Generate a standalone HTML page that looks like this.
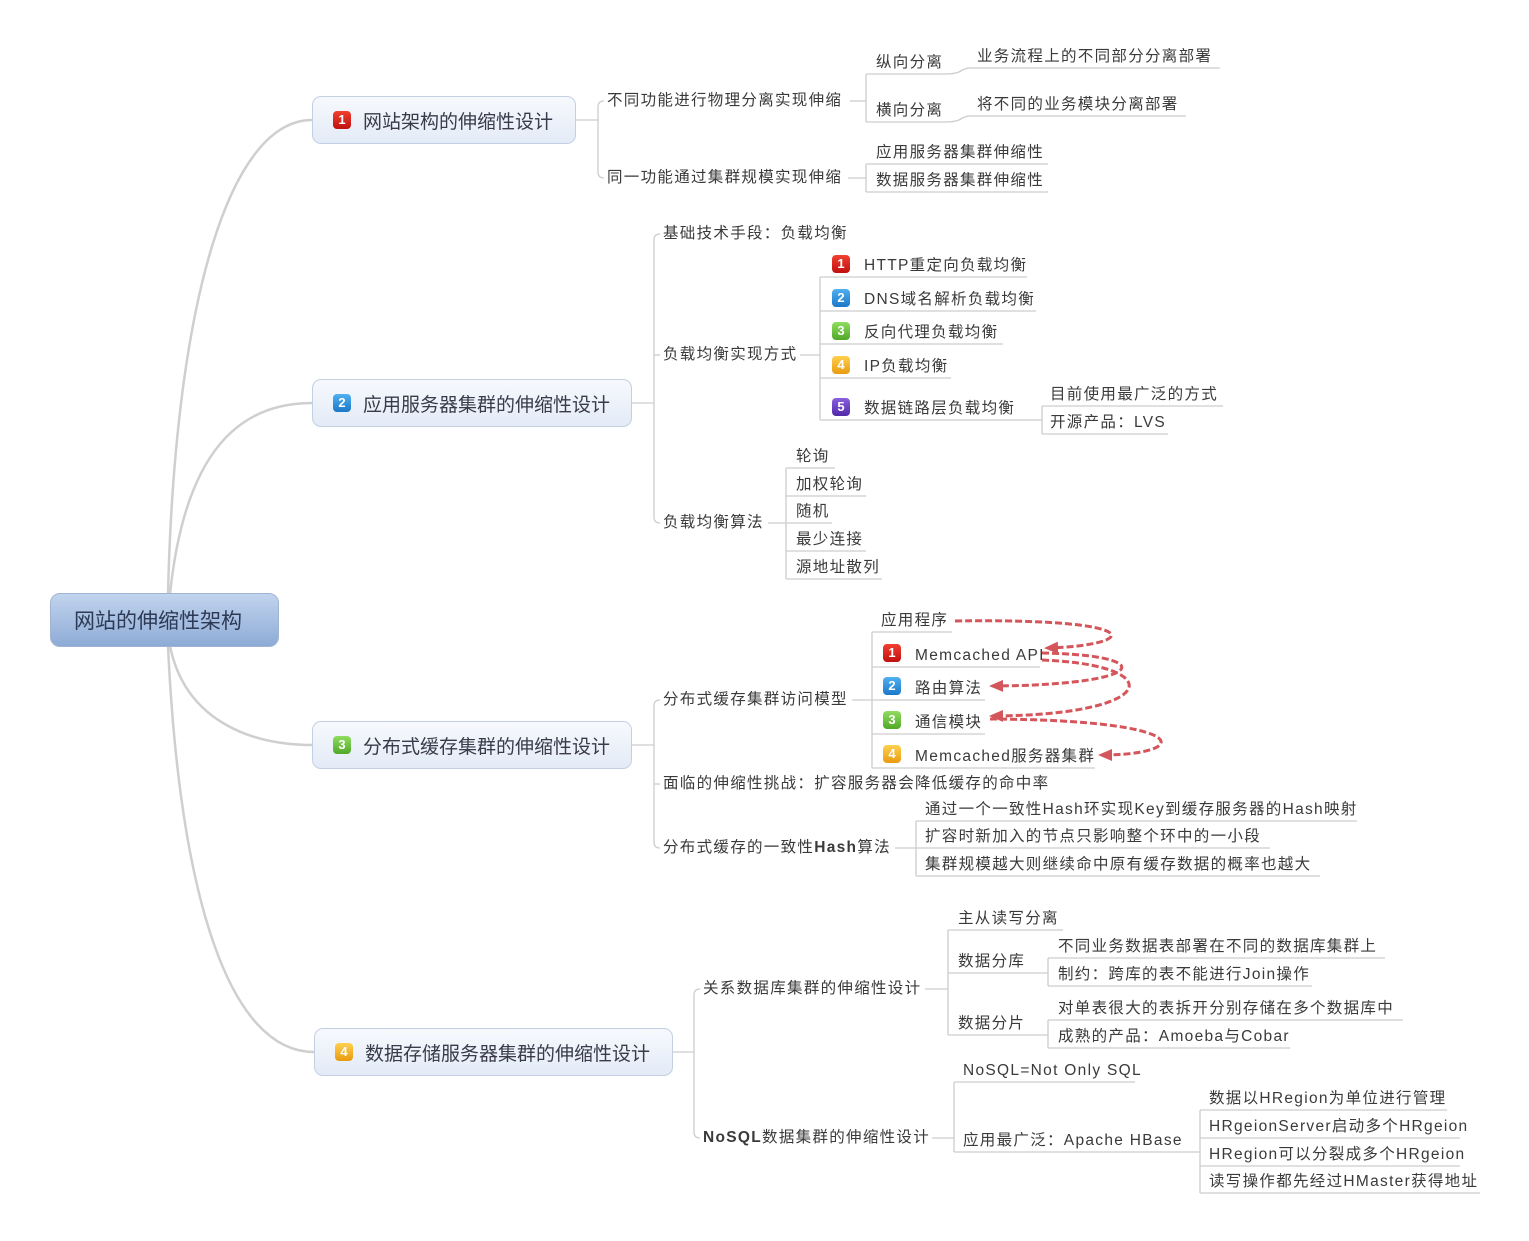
<!DOCTYPE html>
<html><head><meta charset="utf-8"><style>
body{margin:0;background:#fff;width:1529px;height:1241px;position:relative;overflow:hidden;font-family:"Liberation Sans","Noto Sans CJK SC",sans-serif;}
.t{position:absolute;font-size:15.5px;letter-spacing:1.3px;line-height:20px;color:#3a3a3a;white-space:nowrap;}
.b{position:absolute;box-sizing:border-box;border:1px solid #c3d0e2;border-radius:9px;background:linear-gradient(#f7f9fd,#e3ebf7);font-size:19px;color:#3a3a4a;display:flex;align-items:center;padding-left:20px;white-space:nowrap;}
.i{display:inline-block;width:18px;height:18px;border-radius:4px;color:#fff;font-size:13px;font-weight:bold;line-height:18px;text-align:center;font-family:"Liberation Sans",sans-serif;margin-right:12px;letter-spacing:0;}
.r{background:linear-gradient(#f04030,#c01010);}
.u{background:linear-gradient(#50b0f0,#1a78c8);}
.g{background:linear-gradient(#90dd60,#50a828);}
.o{background:linear-gradient(#ffd050,#e89a10);}
.p{background:linear-gradient(#8a60e0,#5028a8);}
.ia{position:absolute;}
</style></head><body>
<svg width="1529" height="1241" style="position:absolute;left:0;top:0">
<defs><marker id="ah" markerWidth="14" markerHeight="12" refX="10" refY="6" orient="auto" markerUnits="userSpaceOnUse"><path d="M0,0 L14,6 L0,12 Z" fill="#d4555a"/></marker></defs>
<g fill="none" stroke="#cfcfcf" stroke-width="2.5">
<path d="M168,594 C175,300 230,120 312,120"/>
<path d="M170,594 C185,450 240,403 312,403"/>
<path d="M170,646 C185,720 250,745 312,745"/>
<path d="M168,646 C180,900 230,1052 314,1052"/>
</g>
<g fill="none" stroke="#cdcdcd" stroke-width="1.3">
<path d="M576,120 L598,120"/><path d="M604,101 Q598,101 598,107 L598,172 Q598,178 604,178"/>
<path d="M850,101 L866,101"/><path d="M866,74 L866,122"/>
<path d="M866,74 L945,74 Q958,74 962,70 L968,68 L1220,68"/>
<path d="M866,122 L945,122 Q958,122 962,118 L968,116 L1186,116"/>
<path d="M848,178 L866,178"/><path d="M866,164 L866,192"/>
<path d="M866,164 L1048,164"/><path d="M866,192 L1048,192"/>
<path d="M632,403 L654,403"/><path d="M660,234 Q654,234 654,240 L654,517 Q654,523 660,523"/><path d="M654,355 L660,355"/>
<path d="M800,355 L820,355"/><path d="M820,277 L820,420"/>
<path d="M820,277 L1027,277"/><path d="M820,311 L1036,311"/><path d="M820,344 L1003,344"/><path d="M820,378 L951,378"/><path d="M820,420 L1042,420"/>
<path d="M1042,406 L1042,434"/><path d="M1042,406 L1223,406"/><path d="M1042,434 L1168,434"/>
<path d="M768,523 L786,523"/><path d="M786,468 L786,579"/>
<path d="M786,468 L835,468"/><path d="M786,496 L866,496"/><path d="M786,523 L832,523"/><path d="M786,551 L866,551"/><path d="M786,579 L882,579"/>
<path d="M632,745 L654,745"/><path d="M660,700 Q654,700 654,706 L654,842 Q654,848 660,848"/><path d="M654,784 L660,784"/>
<path d="M852,700 L872,700"/><path d="M872,632 L872,768"/>
<path d="M872,632 L952,632"/><path d="M872,667 L1040,667"/><path d="M872,700 L985,700"/><path d="M872,734 L985,734"/><path d="M872,768 L1095,768"/>
<path d="M895,848 L916,848"/><path d="M916,821 L916,876"/>
<path d="M916,821 L1357,821"/><path d="M916,848 L1270,848"/><path d="M916,876 L1320,876"/>
<path d="M673,1052 L694,1052"/><path d="M700,989 Q694,989 694,995 L694,1132 Q694,1138 700,1138"/>
<path d="M925,989 L948,989"/><path d="M948,930 L948,1035"/>
<path d="M948,930 L1063,930"/><path d="M948,973 L1048,973"/><path d="M948,1035 L1048,1035"/>
<path d="M1048,958 L1048,986"/><path d="M1048,958 L1385,958"/><path d="M1048,986 L1312,986"/>
<path d="M1048,1020 L1048,1048"/><path d="M1048,1020 L1403,1020"/><path d="M1048,1048 L1290,1048"/>
<path d="M932,1138 L954,1138"/><path d="M954,1082 L954,1152"/>
<path d="M954,1082 L1135,1082"/><path d="M954,1152 L1200,1152"/>
<path d="M1200,1110 L1200,1193"/>
<path d="M1200,1110 L1447,1110"/><path d="M1200,1138 L1460,1138"/><path d="M1200,1166 L1460,1166"/><path d="M1200,1193 L1480,1193"/>
</g>
<g fill="none" stroke="#d4555a" stroke-width="3" stroke-dasharray="7,3">
<path d="M955,621 C1150,618 1140,645 1048,648" marker-end="url(#ah)"/>
<path d="M1042,653 C1160,655 1150,685 993,686" marker-end="url(#ah)"/>
<path d="M1042,660 C1170,665 1160,715 993,716" marker-end="url(#ah)"/>
<path d="M990,719 C1200,720 1190,755 1102,755" marker-end="url(#ah)"/>
</g>
</svg>

<div class="b" style="left:50px;top:593px;width:229px;height:54px;border-radius:10px;background:linear-gradient(#c2d4ee,#8eabd6);border-color:#9fb4d4;font-size:21px;padding-left:23px;color:#2d3a55">网站的伸缩性架构</div>

<div class="b" style="left:312px;top:96px;width:264px;height:48px"><span class="i r">1</span>网站架构的伸缩性设计</div>
<div class="b" style="left:312px;top:379px;width:320px;height:48px"><span class="i u">2</span>应用服务器集群的伸缩性设计</div>
<div class="b" style="left:312px;top:721px;width:320px;height:48px"><span class="i g">3</span>分布式缓存集群的伸缩性设计</div>
<div class="b" style="left:314px;top:1028px;width:359px;height:48px"><span class="i o">4</span>数据存储服务器集群的伸缩性设计</div>

<div class="t" style="left:607px;top:91px">不同功能进行物理分离实现伸缩</div>
<div class="t" style="left:607px;top:168px">同一功能通过集群规模实现伸缩</div>
<div class="t" style="left:876px;top:53px">纵向分离</div>
<div class="t" style="left:977px;top:47px">业务流程上的不同部分分离部署</div>
<div class="t" style="left:876px;top:101px">横向分离</div>
<div class="t" style="left:977px;top:95px">将不同的业务模块分离部署</div>
<div class="t" style="left:876px;top:143px">应用服务器集群伸缩性</div>
<div class="t" style="left:876px;top:171px">数据服务器集群伸缩性</div>

<div class="t" style="left:663px;top:224px">基础技术手段：负载均衡</div>
<div class="t" style="left:663px;top:345px">负载均衡实现方式</div>
<div class="t" style="left:663px;top:513px">负载均衡算法</div>
<span class="i r ia" style="left:832px;top:255px">1</span><div class="t" style="left:864px;top:256px">HTTP重定向负载均衡</div>
<span class="i u ia" style="left:832px;top:289px">2</span><div class="t" style="left:864px;top:290px">DNS域名解析负载均衡</div>
<span class="i g ia" style="left:832px;top:322px">3</span><div class="t" style="left:864px;top:323px">反向代理负载均衡</div>
<span class="i o ia" style="left:832px;top:356px">4</span><div class="t" style="left:864px;top:357px">IP负载均衡</div>
<span class="i p ia" style="left:832px;top:398px">5</span><div class="t" style="left:864px;top:399px">数据链路层负载均衡</div>
<div class="t" style="left:1050px;top:385px">目前使用最广泛的方式</div>
<div class="t" style="left:1050px;top:413px">开源产品：LVS</div>
<div class="t" style="left:796px;top:447px">轮询</div>
<div class="t" style="left:796px;top:475px">加权轮询</div>
<div class="t" style="left:796px;top:502px">随机</div>
<div class="t" style="left:796px;top:530px">最少连接</div>
<div class="t" style="left:796px;top:558px">源地址散列</div>

<div class="t" style="left:663px;top:690px">分布式缓存集群访问模型</div>
<div class="t" style="left:663px;top:774px">面临的伸缩性挑战：扩容服务器会降低缓存的命中率</div>
<div class="t" style="left:663px;top:838px">分布式缓存的一致性<b>Hash</b>算法</div>
<div class="t" style="left:881px;top:611px">应用程序</div>
<span class="i r ia" style="left:883px;top:644px">1</span><div class="t" style="left:915px;top:646px">Memcached API</div>
<span class="i u ia" style="left:883px;top:677px">2</span><div class="t" style="left:915px;top:679px">路由算法</div>
<span class="i g ia" style="left:883px;top:711px">3</span><div class="t" style="left:915px;top:713px">通信模块</div>
<span class="i o ia" style="left:883px;top:745px">4</span><div class="t" style="left:915px;top:747px">Memcached服务器集群</div>
<div class="t" style="left:925px;top:800px">通过一个一致性Hash环实现Key到缓存服务器的Hash映射</div>
<div class="t" style="left:925px;top:827px">扩容时新加入的节点只影响整个环中的一小段</div>
<div class="t" style="left:925px;top:855px">集群规模越大则继续命中原有缓存数据的概率也越大</div>

<div class="t" style="left:703px;top:979px">关系数据库集群的伸缩性设计</div>
<div class="t" style="left:703px;top:1128px"><b>NoSQL</b>数据集群的伸缩性设计</div>
<div class="t" style="left:958px;top:909px">主从读写分离</div>
<div class="t" style="left:958px;top:952px">数据分库</div>
<div class="t" style="left:958px;top:1014px">数据分片</div>
<div class="t" style="left:1058px;top:937px">不同业务数据表部署在不同的数据库集群上</div>
<div class="t" style="left:1058px;top:965px">制约：跨库的表不能进行Join操作</div>
<div class="t" style="left:1058px;top:999px">对单表很大的表拆开分别存储在多个数据库中</div>
<div class="t" style="left:1058px;top:1027px">成熟的产品：Amoeba与Cobar</div>
<div class="t" style="left:963px;top:1061px">NoSQL=Not Only SQL</div>
<div class="t" style="left:963px;top:1131px">应用最广泛：Apache HBase</div>
<div class="t" style="left:1209px;top:1089px">数据以HRegion为单位进行管理</div>
<div class="t" style="left:1209px;top:1117px">HRgeionServer启动多个HRgeion</div>
<div class="t" style="left:1209px;top:1145px">HRegion可以分裂成多个HRgeion</div>
<div class="t" style="left:1209px;top:1172px">读写操作都先经过HMaster获得地址</div>
</body></html>
